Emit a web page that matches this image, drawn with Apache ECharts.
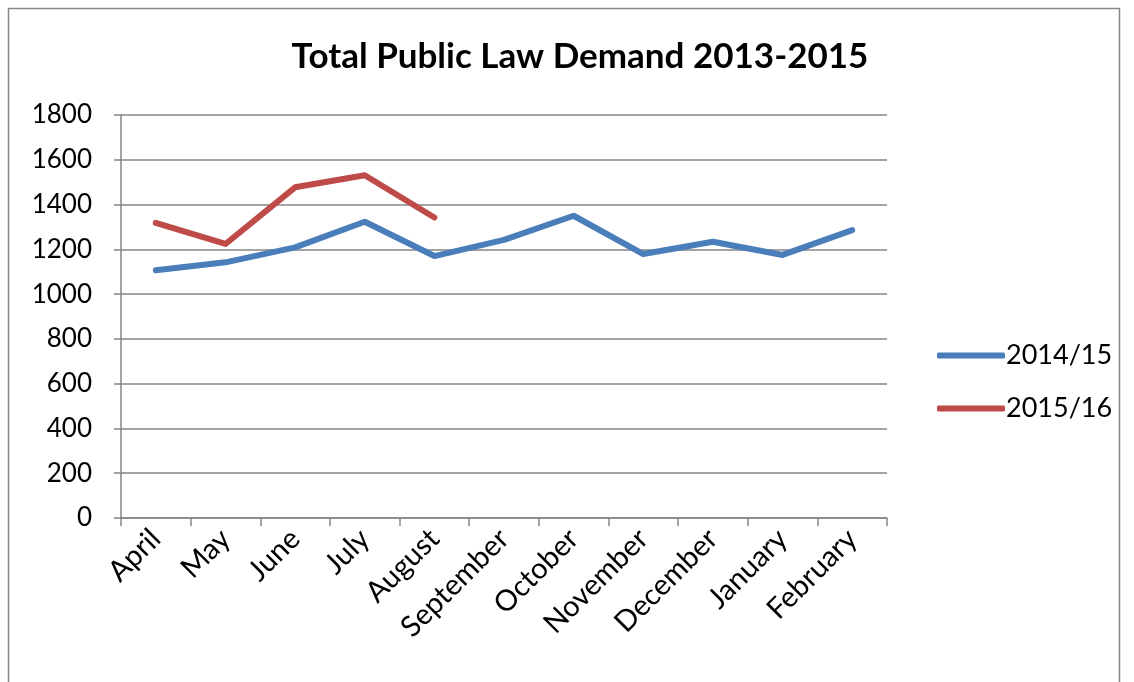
<!DOCTYPE html>
<html>
<head>
<meta charset="utf-8">
<script src="https://cdn.jsdelivr.net/npm/echarts@6/dist/echarts.min.js"></script>
<style>
  html, body { margin: 0; padding: 0; background: #fff; }
  #chart { width: 1134px; height: 682px; }
</style>
</head>
<body>
<div id="chart"></div>
<script>
// months on the x axis
const months = ['April', 'May', 'June', 'July', 'August', 'September', 'October', 'November', 'December', 'January', 'February'];
// demand per month
const demand1415 = [1107, 1142, 1209, 1323, 1170, 1242, 1350, 1179, 1234, 1175, 1286];
const demand1516 = [1318, 1224, 1477, 1531, 1342];
const seriesNames = ['2014/15', '2015/16'];

const font = 'Lato, "Open Sans", sans-serif';
const chart = echarts.init(document.getElementById('chart'));

const option = {
  backgroundColor: '#fff',
  animation: false,
  title: {
    text: 'Total Public Law Demand 2013-2015',
    left: 575,
    textAlign: 'center',
    top: 34,
    textStyle: { fontFamily: font, fontSize: 35, fontWeight: 'bold', color: '#000' }
  },
  graphic: [{
    type: 'rect',
    shape: { x: 8.5, y: 8.5, width: 1111, height: 690 },
    style: { fill: 'none', stroke: '#868686', lineWidth: 1.5 },
    silent: true
  }],
  legend: {
    orient: 'vertical',
    left: 932,
    top: 337,
    icon: 'roundRect',
    itemWidth: 68,
    itemHeight: 6,
    itemGap: 26,
    textStyle: { fontFamily: font, fontSize: 27, color: '#000', padding: [0, 0, 0, -4] },
    data: seriesNames
  },
  grid: { left: 121, right: 247, top: 115, bottom: 164 },
  xAxis: {
    type: 'category',
    data: months,
    boundaryGap: true,
    axisLine: { lineStyle: { color: '#868686', width: 1.5 } },
    axisTick: { show: true, length: 8, lineStyle: { color: '#868686', width: 1.5 } },
    axisLabel: { rotate: 45, margin: 16, interval: 0, fontFamily: font, fontSize: 29, color: '#000' }
  },
  yAxis: {
    type: 'value',
    min: 0,
    max: 1800,
    interval: 200,
    axisLine: { show: true, lineStyle: { color: '#868686', width: 1.5 } },
    axisTick: { show: true, length: 7, lineStyle: { color: '#868686', width: 1.5 } },
    splitLine: { lineStyle: { color: '#868686', width: 1.5 } },
    axisLabel: { margin: 29, fontFamily: font, fontSize: 26, color: '#000', formatter: v => String(v) }
  },
  series: [
    {
      name: seriesNames[0],
      type: 'line',
      data: demand1415,
      symbol: 'none',
      lineStyle: { color: '#4a7ebb', width: 6, cap: 'round', join: 'round' },
      itemStyle: { color: '#4a7ebb' }
    },
    {
      name: seriesNames[1],
      type: 'line',
      data: demand1516,
      symbol: 'none',
      lineStyle: { color: '#be4b48', width: 6, cap: 'round', join: 'round' },
      itemStyle: { color: '#be4b48' }
    }
  ]
};

chart.setOption(option);
</script>
</body>
</html>
